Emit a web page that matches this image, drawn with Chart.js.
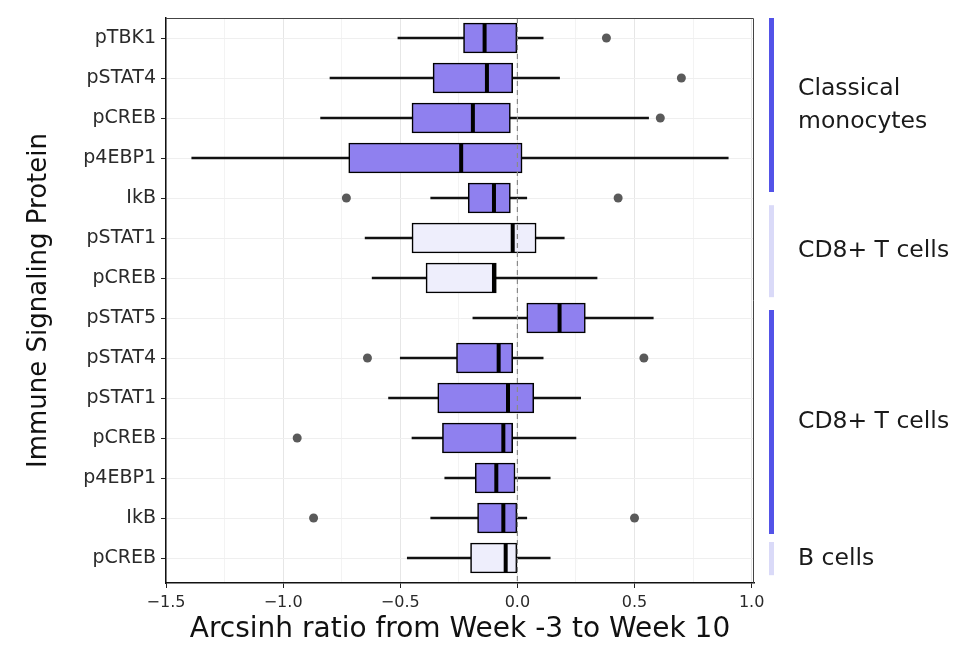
<!DOCTYPE html>
<html>
<head>
<meta charset="utf-8">
<script src="https://cdn.jsdelivr.net/npm/chart.js@4"></script>
<style>
  html, body { margin: 0; padding: 0; background: #fff; }
  #wrap { width: 956px; height: 649px; }
</style>
</head>
<body>
<div id="wrap"><canvas id="boxChart" width="956" height="649"></canvas></div>
<script>
// rows, top to bottom
const proteins = ['pTBK1', 'pSTAT4', 'pCREB', 'p4EBP1', 'IkB', 'pSTAT1', 'pCREB',
                  'pSTAT5', 'pSTAT4', 'pSTAT1', 'pCREB', 'p4EBP1', 'IkB', 'pCREB'];
const shade = ['dark', 'dark', 'dark', 'dark', 'dark', 'light', 'light',
               'dark', 'dark', 'dark', 'dark', 'dark', 'dark', 'light'];

// box stats
const whiskerLow  = [-0.51, -0.80, -0.84, -1.39, -0.37, -0.65, -0.62, -0.19, -0.50, -0.55, -0.45, -0.31, -0.37, -0.47];
const q1          = [-0.23, -0.36, -0.45, -0.72, -0.21, -0.45, -0.39,  0.04, -0.26, -0.34, -0.32, -0.18, -0.17, -0.20];
const medians     = [-0.14, -0.13, -0.19, -0.24, -0.10, -0.02, -0.10,  0.18, -0.08, -0.04, -0.06, -0.09, -0.06, -0.05];
const q3          = [ 0.00, -0.02, -0.03,  0.02, -0.03,  0.08, -0.09,  0.29, -0.02,  0.07, -0.02, -0.01,  0.00,  0.00];
const whiskerHigh = [ 0.11,  0.18,  0.56,  0.90,  0.04,  0.20,  0.34,  0.58,  0.11,  0.27,  0.25,  0.14,  0.04,  0.14];

// outliers: [row, value]
const outliers = [[0, 0.38], [1, 0.70], [2, 0.61], [4, -0.73], [4, 0.43],
                  [8, -0.64], [8, 0.54], [10, -0.94], [12, -0.87], [12, 0.50]];

// cell type groups on the right (row spans)
const groupNames  = [['Classical', 'monocytes'], ['CD8+ T cells'], ['CD8+ T cells'], ['B cells']];
const groupStart  = [-0.5, 4.18, 6.8, 12.6];
const groupEnd    = [3.85, 6.48, 12.4, 13.43];
const groupShade  = ['dark', 'light', 'dark', 'light'];

const xTicks = [-1.5, -1.25, -1.0, -0.75, -0.5, -0.25, 0, 0.25, 0.5, 0.75, 1.0];
const yMin = -0.5, yMax = 13.625;

const boxFill = { dark: '#8f80ef', light: '#eeeefc' };
const barFill = { dark: '#5353e8', light: '#dadaf8' };
const FONT = '"DejaVu Sans", "Liberation Sans", Arial, sans-serif';

const rowIdx = proteins.map((_, i) => i);
const isMajor = v => Math.abs(v * 2 - Math.round(v * 2)) < 1e-6;

// side labels and frame
const sidePlugin = {
  id: 'sideGroups',
  afterDraw(chart) {
    const ctx = chart.ctx;
    const y = chart.scales.y;
    const area = chart.chartArea;
    ctx.save();
    // frame top / right
    ctx.strokeStyle = '#444';
    ctx.lineWidth = 1;
    ctx.beginPath();
    ctx.moveTo(area.left, area.top + 0.5);
    ctx.lineTo(area.right - 0.5, area.top + 0.5);
    ctx.lineTo(area.right - 0.5, area.bottom);
    ctx.stroke();

    ctx.font = '23.5px ' + FONT;
    ctx.textBaseline = 'middle';
    groupNames.forEach((lines, g) => {
      const top = y.getPixelForValue(groupStart[g]);
      const bot = y.getPixelForValue(groupEnd[g]);
      ctx.fillStyle = barFill[groupShade[g]];
      ctx.fillRect(area.right + 15, top, 5, bot - top);
      ctx.fillStyle = '#1a1a1a';
      const mid = (top + bot) / 2;
      lines.forEach((t, k) => {
        ctx.fillText(t, area.right + 44, mid + (k - (lines.length - 1) / 2) * 33);
      });
    });
    ctx.restore();
  }
};

new Chart(document.getElementById('boxChart'), {
  type: 'bar',
  data: {
    datasets: [
      {
        label: 'zero',
        type: 'scatter',
        data: [{ x: 0, y: yMin }, { x: 0, y: yMax }],
        showLine: true,
        borderColor: '#8a8a8a',
        borderWidth: 1.2,
        borderDash: [5, 4],
        pointRadius: 0,
        order: 0
      },
      {
        label: 'median',
        type: 'scatter',
        data: rowIdx.map(i => ({ x: medians[i], y: i })),
        pointStyle: 'line',
        rotation: 90,
        pointRadius: 14,
        borderColor: '#000',
        borderWidth: 4,
        order: 1
      },
      {
        label: 'outliers',
        type: 'scatter',
        data: outliers.map(o => ({ x: o[1], y: o[0] })),
        pointRadius: 4.5,
        backgroundColor: '#5a5a5a',
        borderWidth: 0,
        order: 1
      },
      {
        label: 'box',
        data: rowIdx.map(i => ({ x: [q1[i], q3[i]], y: i })),
        backgroundColor: shade.map(s => boxFill[s]),
        borderColor: '#000',
        borderWidth: 1.6,
        borderSkipped: false,
        barThickness: 30,
        grouped: false,
        order: 2
      },
      {
        label: 'whisker',
        data: rowIdx.map(i => ({ x: [whiskerLow[i], whiskerHigh[i]], y: i })),
        backgroundColor: '#111',
        borderWidth: 0,
        barThickness: 2,
        grouped: false,
        order: 3
      }
    ]
  },
  options: {
    indexAxis: 'y',
    responsive: false,
    animation: false,
    layout: { padding: { left: 12, right: 202, top: 14, bottom: 2 } },
    plugins: {
      legend: { display: false },
      tooltip: { enabled: false }
    },
    scales: {
      x: {
        type: 'linear',
        min: -1.5,
        max: 1.01,
        afterBuildTicks: s => { s.ticks = xTicks.map(v => ({ value: v })); },
        afterFit: s => { s.height = 64; },
        ticks: {
          autoSkip: false,
          maxRotation: 0,
          padding: 5,
          color: '#2a2a2a',
          font: { family: FONT, size: 16 },
          callback: v => (isMajor(v) ? (v < 0 ? '\u2212' : '') + Math.abs(v).toFixed(1) : '')
        },
        grid: {
          color: c => (isMajor(c.tick.value) ? '#e6e6e6' : '#f3f3f3'),
          tickColor: c => (isMajor(c.tick.value) ? '#222' : 'rgba(0,0,0,0)'),
          tickLength: 5,
          lineWidth: 1
        },
        border: { color: '#111', width: 1.5 },
        title: {
          display: true,
          text: 'Arcsinh ratio from Week -3 to Week 10',
          color: '#111',
          font: { family: FONT, size: 28 },
          padding: { top: 0, bottom: 0 }
        }
      },
      y: {
        type: 'linear',
        reverse: true,
        offset: false,
        min: yMin,
        max: yMax,
        afterBuildTicks: s => { s.ticks = rowIdx.map(i => ({ value: i })); },
        afterFit: s => { s.width = 154; },
        ticks: {
          autoSkip: false,
          padding: 5,
          color: '#2a2a2a',
          font: { family: FONT, size: 19 },
          callback: v => proteins[v] ?? ''
        },
        grid: {
          offset: false,
          color: '#efefef',
          tickColor: '#222',
          tickLength: 5
        },
        border: { color: '#111', width: 1.5 },
        title: {
          display: true,
          text: 'Immune Signaling Protein',
          color: '#111',
          font: { family: FONT, size: 26 },
          padding: { top: 12, bottom: 0 }
        }
      }
    }
  },
  plugins: [sidePlugin]
});
</script>
</body>
</html>
